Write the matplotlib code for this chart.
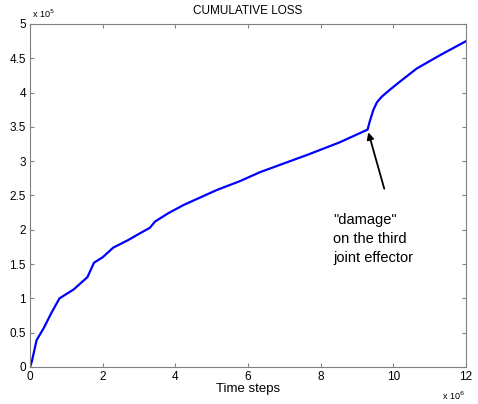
import matplotlib
matplotlib.use('Agg')
import matplotlib.pyplot as plt

plt.rcParams['font.family'] = ['Liberation Sans', 'DejaVu Sans']

# time steps (x 10^6) and cumulative loss (x 10^5)
steps = [0, 0.05, 0.18, 0.37, 0.6, 0.81, 1.2, 1.58, 1.76, 2.0, 2.29, 2.7, 3.03, 3.3, 3.44,
         3.8, 4.22, 5.14, 5.78, 6.33, 7.0, 7.62, 8.5, 9.29, 9.35, 9.45, 9.55, 9.68, 9.9,
         10.18, 10.64, 11.3, 11.93, 12]
loss = [0, 0.08, 0.39, 0.56, 0.8, 1.0, 1.13, 1.31, 1.52, 1.60, 1.74, 1.85, 1.95, 2.03, 2.12,
        2.24, 2.36, 2.58, 2.71, 2.84, 2.97, 3.09, 3.27, 3.46, 3.58, 3.75, 3.86, 3.94, 4.04,
        4.16, 4.35, 4.55, 4.73, 4.75]
xticks = [0, 2, 4, 6, 8, 10, 12]
yticks = [0, 0.5, 1, 1.5, 2, 2.5, 3, 3.5, 4, 4.5, 5]

fig = plt.figure(figsize=(4.78, 4.04), dpi=100)
ax = fig.add_axes([0.0628, 0.0916, 0.9122, 0.849])
ax.plot(steps, loss, color='#0000ff', lw=1.6)

ax.set_xlim(0, 12)
ax.set_ylim(0, 5)
ax.set_xticks(xticks)
ax.set_yticks(yticks)
ax.set_yticklabels(['0', '0.5', '1', '1.5', '2', '2.5', '3', '3.5', '4', '4.5', '5'])
ax.tick_params(direction='in', top=True, right=True, labelsize=8.5, length=3,
               color='#808080', pad=3)
for s in ax.spines.values():
    s.set_color('#808080')

ax.set_title('CUMULATIVE LOSS', fontsize=8.5, pad=7)
ax.set_xlabel('Time steps', fontsize=9.5, labelpad=0)
fig.text(0.066, 0.955, 'x 10$^{5}$', fontsize=6.5)
fig.text(0.925, 0.01, 'x 10$^{6}$', fontsize=6.5)

ax.annotate('', xy=(9.29, 3.46), xytext=(9.77, 2.56),
            arrowprops=dict(arrowstyle='-|>', color='black', lw=1.3,
                            mutation_scale=10))
ax.text(8.35, 2.24, '"damage"\non the third\njoint effector', fontsize=10.5,
        va='top', linespacing=1.45)

fig.savefig('out.png')
